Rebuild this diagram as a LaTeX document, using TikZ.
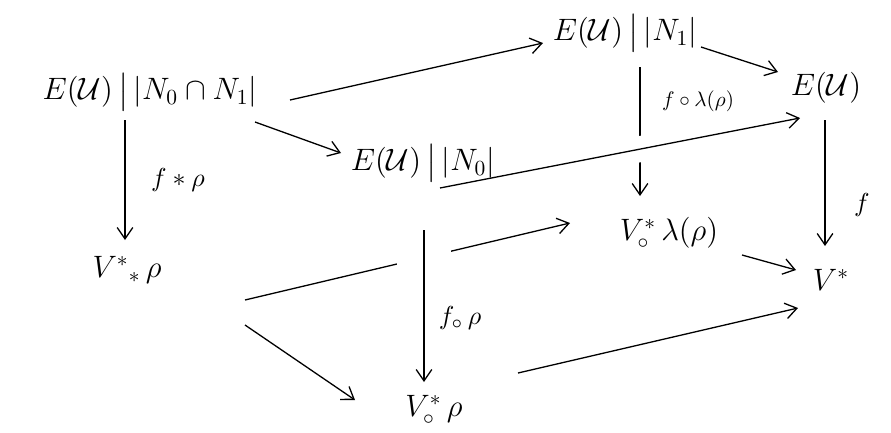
\documentclass[tikz,border=0pt]{standalone}
\usepackage{amsmath,amssymb}
\usetikzlibrary{arrows.meta}

\begin{document}
\begin{tikzpicture}[x=1pt,y=-1pt]
\tikzset{
  objnode/.style={inner sep=0pt,font=\Large,scale=2.15},
  maplabel/.style={inner sep=0pt,scale=2.6},
  smalllabel/.style={inner sep=0pt,scale=2.1},
  mapto/.style={-{Straight Barb[length=4mm,width=5.5mm]},line width=1.3pt},
  gapcut/.style={draw=white,line width=#1}
}
\useasboundingbox[fill=white] (0,0) rectangle (891,432);
\node[objnode] (n_EN01) at (150,92) {$E(\mathcal{U})\,\big|\,|N_0\cap N_1|$};
\node[objnode] (n_EN1) at (625,33) {$E(\mathcal{U})\,\big|\,|N_1|$};
\node[objnode] (n_EN0) at (423,163) {$E(\mathcal{U})\,\big|\,|N_0|$};
\node[objnode] (n_E) at (826,88) {$E(\mathcal{U})$};
\node[objnode] (n_Vst) at (127,270) {$V^{*}{}_{*}\,\rho$};
\node[objnode] (n_Vlam) at (669,233) {$V^{*}_{\circ}\,\lambda(\rho)$};
\node[objnode] (n_V) at (831,280) {$V^{*}$};
\node[objnode] (n_Vrho) at (434,410) {$V^{*}_{\circ}\,\rho$};
\node[maplabel] (l_fst) at (178,180) {$f*\rho$};
\node[smalllabel] (l_flam) at (698,101) {$f\circ\lambda(\rho)$};
\node[maplabel] (l_f) at (862,205) {$f$};
\node[maplabel] (l_frho) at (460,318) {$f_{\circ}\,\rho$};
% back face
\draw[mapto] ([xshift=140pt,yshift=-8pt]n_EN01.center) -- ([xshift=-82pt,yshift=-10pt]n_EN1.center);
\draw[mapto] ([xshift=105pt,yshift=-30pt]n_EN01.center) -- ([xshift=-82pt,yshift=10pt]n_EN0.center);
\draw[mapto] ([xshift=76pt,yshift=-14pt]n_EN1.center) -- ([xshift=-48pt,yshift=16pt]n_E.center);
\draw[mapto] ([xshift=15pt,yshift=-34pt]n_EN1.center) -- ([xshift=-29pt,yshift=37pt]n_Vlam.center);
\draw[gapcut=26pt,shorten <=196pt,shorten >=156pt] ([xshift=17pt,yshift=-25pt]n_EN0.center) -- ([xshift=-26pt,yshift=-30pt]n_E.center);
\draw[mapto] ([xshift=17pt,yshift=-25pt]n_EN0.center) -- ([xshift=-26pt,yshift=-30pt]n_E.center);
% verticals
\draw[mapto] ([xshift=-25pt,yshift=-28pt]n_EN01.center) -- ([xshift=-2pt,yshift=30pt]n_Vst.center);
\draw[mapto] ([xshift=-1pt,yshift=-32pt]n_E.center) -- ([xshift=-6pt,yshift=34pt]n_V.center);
% front face
\draw[mapto] ([xshift=118pt,yshift=-30pt]n_Vst.center) -- ([xshift=-99pt,yshift=10pt]n_Vlam.center);
\draw[gapcut=54pt,shorten <=14pt,shorten >=108pt] ([xshift=1pt,yshift=-67pt]n_EN0.center) -- ([xshift=-10pt,yshift=28pt]n_Vrho.center);
\draw[mapto] ([xshift=1pt,yshift=-67pt]n_EN0.center) -- ([xshift=-10pt,yshift=28pt]n_Vrho.center);
\draw[mapto] ([xshift=118pt,yshift=-55pt]n_Vst.center) -- ([xshift=-79pt,yshift=10pt]n_Vrho.center);
\draw[mapto] ([xshift=73pt,yshift=-22pt]n_Vlam.center) -- ([xshift=-35pt,yshift=10pt]n_V.center);
\draw[mapto] ([xshift=84pt,yshift=37pt]n_Vrho.center) -- ([xshift=-33pt,yshift=-28pt]n_V.center);
\end{tikzpicture}
\end{document}
